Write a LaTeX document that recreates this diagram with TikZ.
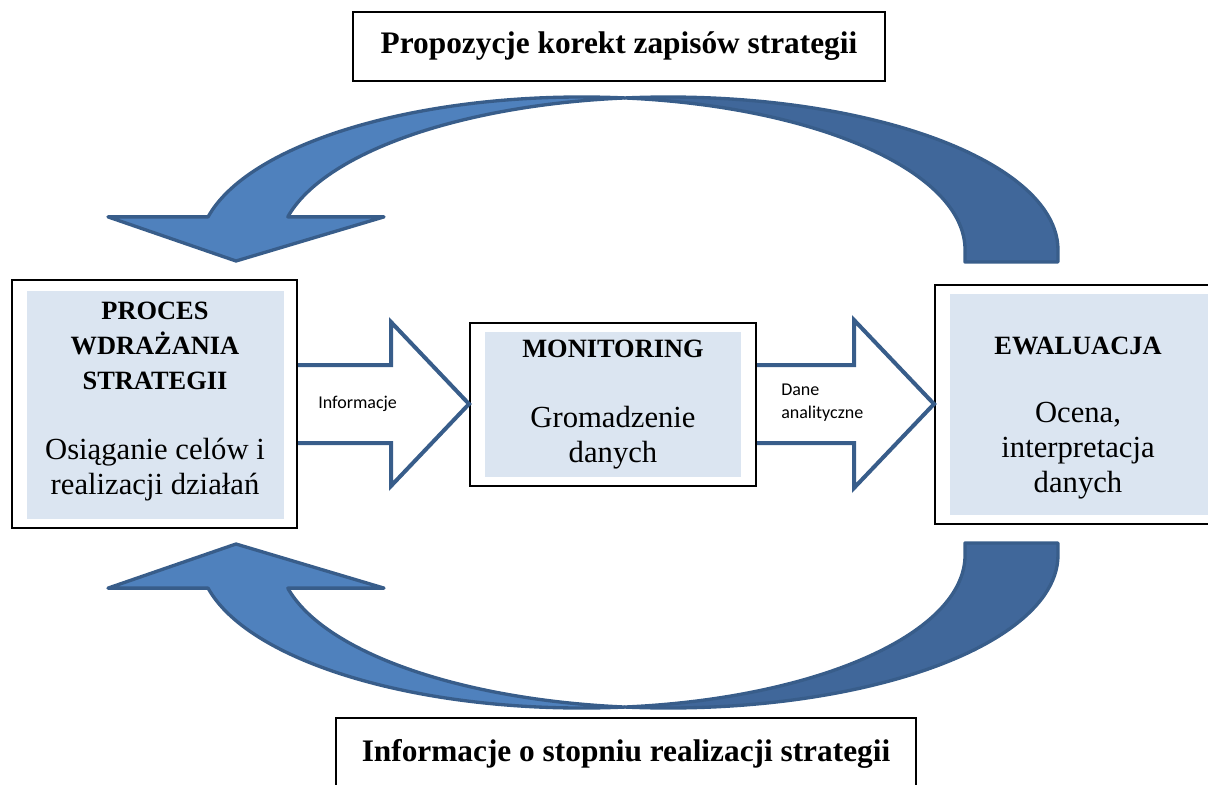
\documentclass[tikz,border=0pt]{standalone}
\usepackage{fontspec}
\setmainfont{Liberation Serif}
\newfontfamily\lblfont{Carlito}
\usetikzlibrary{calc}
\definecolor{boxfill}{HTML}{DBE5F1}
\definecolor{arrline}{HTML}{385D8A}
\definecolor{arrlight}{HTML}{4F81BD}
\definecolor{arrdark}{HTML}{40679A}
\newcommand{\hd}[1]{{\fontsize{19.8}{26.25}\selectfont\bfseries #1}}

\begin{document}
\begin{tikzpicture}[x=0.75pt, y=-0.75pt,
    box/.style={draw, line width=1.5pt, fill=white, inner sep=0pt},
    txt/.style={align=center, inner sep=0pt, font=\fontsize{23}{26.25}\selectfont},
    ttl/.style={draw, line width=1.6pt, fill=white, inner sep=0pt, font=\fontsize{23.5}{28}\selectfont\bfseries},
    lbl/.style={align=left, anchor=west, inner sep=0pt, font=\lblfont\fontsize{13.5}{17}\selectfont},
    blockarr/.style={draw=arrline, line width=3pt, fill=white, line join=miter},
    bandlight/.style={fill=arrlight, draw=arrline, line width=2.5pt, line join=round},
    banddark/.style={fill=arrdark, draw=arrline, line width=2.5pt, line join=round}
]
\useasboundingbox (0,0) rectangle (1208,785);
\clip (0,0) rectangle (1208,785);

\node[ttl, minimum width=399pt, minimum height=51.75pt] (prop) at (619,46.5) {Propozycje korekt zapisów strategii};
\node[ttl, minimum width=435pt, minimum height=54pt] (info) at (626,754) {Informacje o stopniu realizacji strategii};

\node[box, minimum width=213.75pt, minimum height=186pt] (proc) at (154.5,404) {};
\node[box, minimum width=214.5pt, minimum height=122.25pt] (mon) at (613,404) {};
\node[box, minimum width=217.5pt, minimum height=179.25pt] (ewa) at (1080,404) {};
\fill[boxfill] ($(proc.north west)+(16,12)$) rectangle ($(proc.south east)+(-14,-10)$);
\fill[boxfill] ($(mon.north west)+(16,10)$) rectangle ($(mon.south east)+(-16,-10)$);
\fill[boxfill] ($(ewa.north west)+(16,10)$) rectangle ($(ewa.south east)+(-16,-10)$);

\node[txt] (proctxt) at (155,402) {\hd{PROCES}\\\hd{WDRAŻANIA}\\\hd{STRATEGII}\\[26.25pt]Osiąganie celów i\\realizacji działań};
\node[txt] (montxt) at (613,405) {\hd{MONITORING}\\[26.25pt]Gromadzenie\\danych};
\node[txt] (ewatxt) at (1078,418) {\hd{EWALUACJA}\\[25pt]Ocena,\\interpretacja\\danych};

\filldraw[blockarr] ($(proc.east)+(0,-39)$) -- ($(mon.west)+(-78,-39)$) -- ($(mon.west)+(-78,-82)$) -- (mon.west)
  -- ($(mon.west)+(-78,82)$) -- ($(mon.west)+(-78,39)$) -- ($(proc.east)+(0,39)$);
\filldraw[blockarr] ($(mon.east)+(0,-39)$) -- ($(ewa.west)+(-80,-39)$) -- ($(ewa.west)+(-80,-84)$) -- (ewa.west)
  -- ($(ewa.west)+(-80,84)$) -- ($(ewa.west)+(-80,39)$) -- ($(mon.east)+(0,39)$);
\node[lbl] (infolbl) at (318,404) {Informacje};
\node[lbl] (danelbl) at (781,403) {Dane\\analityczne};

\foreach \sy/\dy in {1/0, -1/805} {
  \begin{scope}[shift={(0,\dy)}, yscale=\sy]
    \filldraw[banddark] (624.8,97.96) arc[start angle=83.59, end angle=0, x radius=287.25pt, y radius=114.75pt]
      -- (965,262) -- (1058,262) -- (1058,250)
      arc[start angle=0, end angle=96.41, x radius=292.275pt, y radius=114.75pt] -- cycle;
    \filldraw[bandlight] (208.07,216.88) arc[start angle=167.5, end angle=83.59, x radius=287.25pt, y radius=114.75pt]
      arc[start angle=96.41, end angle=167.5, x radius=292.275pt, y radius=114.75pt]
      -- (384,216.88) -- (236,261) -- (108,216.88) -- cycle;
  \end{scope}
}
\end{tikzpicture}
\end{document}
